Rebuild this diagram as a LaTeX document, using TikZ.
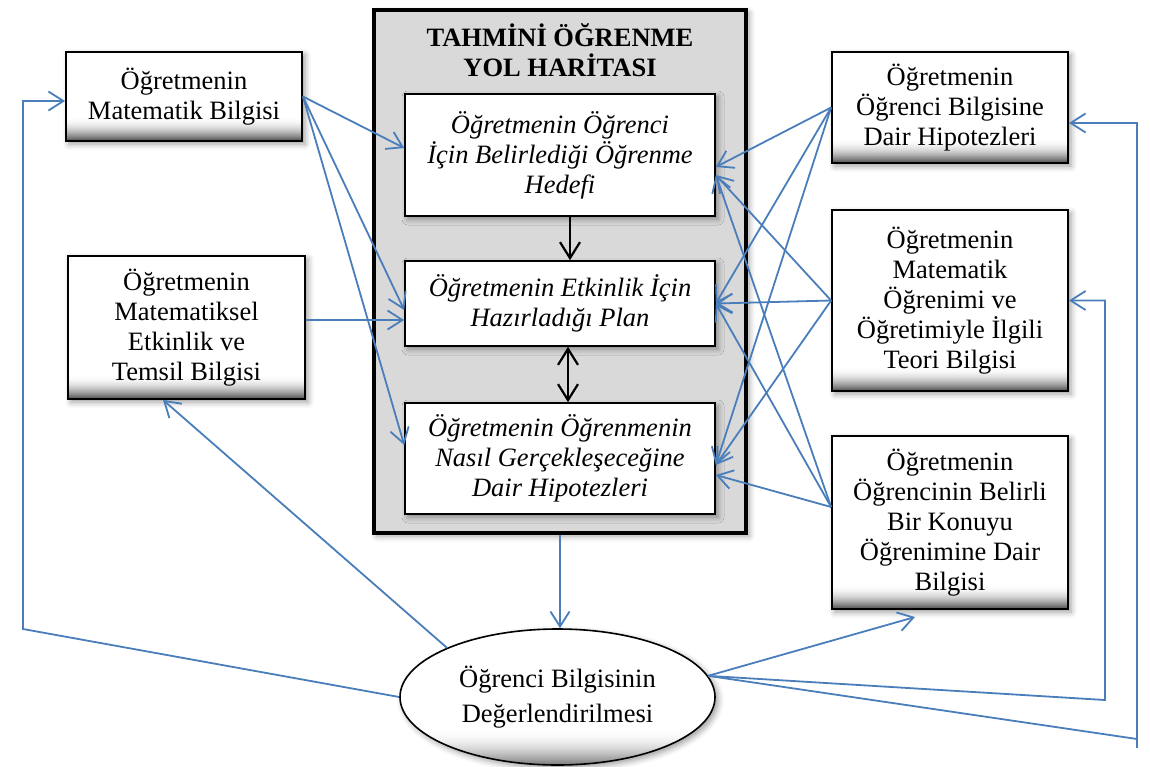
\documentclass[tikz,border=0pt]{standalone}
\usepackage{fontspec}
\setmainfont{Liberation Serif}
\usetikzlibrary{arrows.meta,shapes.geometric,shadows.blur}
\definecolor{lineblue}{HTML}{4A7EBB}
\definecolor{mapgray}{HTML}{D9D9D9}
\tikzset{
  txt/.style={font=\fontsize{26.5}{30}\selectfont, align=center},
  softshadow/.style={blur shadow={shadow xshift=3pt, shadow yshift=-3pt, shadow blur radius=6pt, shadow opacity=40}},
  bottomshade/.style 2 args={path picture={
      \foreach \i in {0,...,#1}{
        \pgfmathsetmacro\p{#2*(1-\i/(#1+1))^2}
        \fill[black!\p] ([yshift=\i pt]path picture bounding box.south west)
            rectangle ([yshift=\i pt+1.4pt]path picture bounding box.south east);
      }}},
  outerbox/.style={txt, draw=black, line width=1.8pt, fill=white, minimum width=236pt,
      inner sep=0pt, softshadow, bottomshade={23}{66}},
  innerbox/.style={txt, font=\fontsize{26.5}{30}\selectfont\itshape, draw=black, line width=1.6pt,
      fill=white, minimum width=310pt, inner sep=0pt, softshadow},
  blp/.style={draw=lineblue, line width=1.8pt},
  bl/.style={blp, -{Straight Barb[length=15pt,width=19pt]}},
  bk/.style={draw=black, line width=2.2pt, -{Straight Barb[length=16pt,width=20pt]}},
}
\begin{document}
\begin{tikzpicture}[x=1pt, y=-1pt]
\useasboundingbox (0,0) rectangle (1150,766);

% big map box
\node[draw=black, line width=3.5pt, fill=mapgray, minimum width=372pt, minimum height=523pt,
      inner sep=0pt, softshadow] (B) at (560,271.5) {};
\node[txt, font=\fontsize{26.5}{30}\selectfont\bfseries] (T) at (560,50) {TAHMİNİ ÖĞRENME\\YOL HARİTASI};

% inner boxes
\node[innerbox, minimum height=122pt] (b1) at (560,155) {Öğretmenin Öğrenci\\İçin Belirlediği Öğrenme\\Hedefi};
\node[innerbox, minimum height=85pt] (b2) at (560,303.5) {Öğretmenin Etkinlik İçin\\Hazırladığı Plan};
\node[innerbox, minimum height=111pt] (b3) at (560,458.5) {Öğretmenin Öğrenmenin\\Nasıl Gerçekleşeceğine\\Dair Hipotezleri};

% left boxes
\node[outerbox, minimum height=89pt] (L1) at (184,96.5) {Öğretmenin\\Matematik Bilgisi};
\node[outerbox, minimum width=237pt, minimum height=143pt] (L2) at (186.5,327.5) {Öğretmenin\\Matematiksel\\Etkinlik ve\\Temsil Bilgisi};

% right boxes
\node[outerbox, minimum height=111pt] (R1) at (950,107.5) {Öğretmenin\\Öğrenci Bilgisine\\Dair Hipotezleri};
\node[outerbox, minimum height=181pt] (R2) at (950,300.5) {Öğretmenin\\Matematik\\Öğrenimi ve\\Öğretimiyle İlgili\\Teori Bilgisi};
\node[outerbox, minimum height=173pt] (R3) at (950,522.5) {Öğretmenin\\Öğrencinin Belirli\\Bir Konuyu\\Öğrenimine Dair\\Bilgisi};

% ellipse
\node[ellipse, draw=black, line width=1.6pt, fill=white, minimum width=315pt, minimum height=136pt,
      inner sep=0pt, txt, font=\fontsize{26.5}{35}\selectfont, softshadow, bottomshade={35}{50}]
      (E) at (557.5,697) {Öğrenci Bilgisinin\\Değerlendirilmesi};

% left connectors
\draw[bl] (L1.east) -- ([yshift=7pt]b1.west);
\draw[bl] (L1.east) -- ([yshift=-6.5pt]b2.west);
\draw[bl] (L1.east) -- ([yshift=13.5pt]b3.west);
\draw[bl] ([yshift=7.5pt]L2.east) -- ([yshift=-16.5pt]b2.west);

% right connectors
\draw[bl] (R1.west) -- ([yshift=-12pt]b1.east);
\draw[bl] (R1.west) -- (b2.east);
\draw[bl] (R1.west) -- ([yshift=-6.5pt]b3.east);
\draw[bl] (R2.west) -- ([yshift=-20pt]b1.east);
\draw[bl] (R2.west) -- (b2.east);
\draw[bl] (R2.west) -- ([yshift=-6.5pt]b3.east);
\draw[bl] ([yshift=15.5pt]R3.west) -- ([yshift=-20pt]b1.east);
\draw[bl] ([yshift=15.5pt]R3.west) -- (b2.east);
\draw[bl] ([yshift=15.5pt]R3.west) -- ([yshift=-16.5pt]b3.east);

% inner black arrows
\draw[bk] ([xshift=10pt]b1.south) -- ([xshift=10pt]b2.north);
\draw[bk, {Straight Barb[length=16pt,width=20pt]}-{Straight Barb[length=16pt,width=20pt]}]
      ([xshift=8pt]b2.south) -- ([xshift=8pt]b3.north);

% map to evaluation
\draw[bl] (B.south) -- (B.south |- E.north);

% evaluation feedback
\coordinate (lc) at (23,629);
\coordinate (r3tip) at (915,617);
\coordinate (rc1) at (1105,700);
\coordinate (rc2) at (1137,739);
\coordinate (rc2b) at (1137,748);
\draw[bl] (E.156) -- ([xshift=-23.5pt]L2.south);
\draw[bl] (E.west) -- (lc) |- ([yshift=-4.5pt]L1.west);
\draw[bl] (E.8) -- (r3tip);
\draw[bl] (E.8) -- (rc1) |- (R2.east);
\draw[blp] (E.8) -- (rc2);
\draw[bl] (rc2b) |- ([yshift=-15.5pt]R1.east);
\end{tikzpicture}
\end{document}
